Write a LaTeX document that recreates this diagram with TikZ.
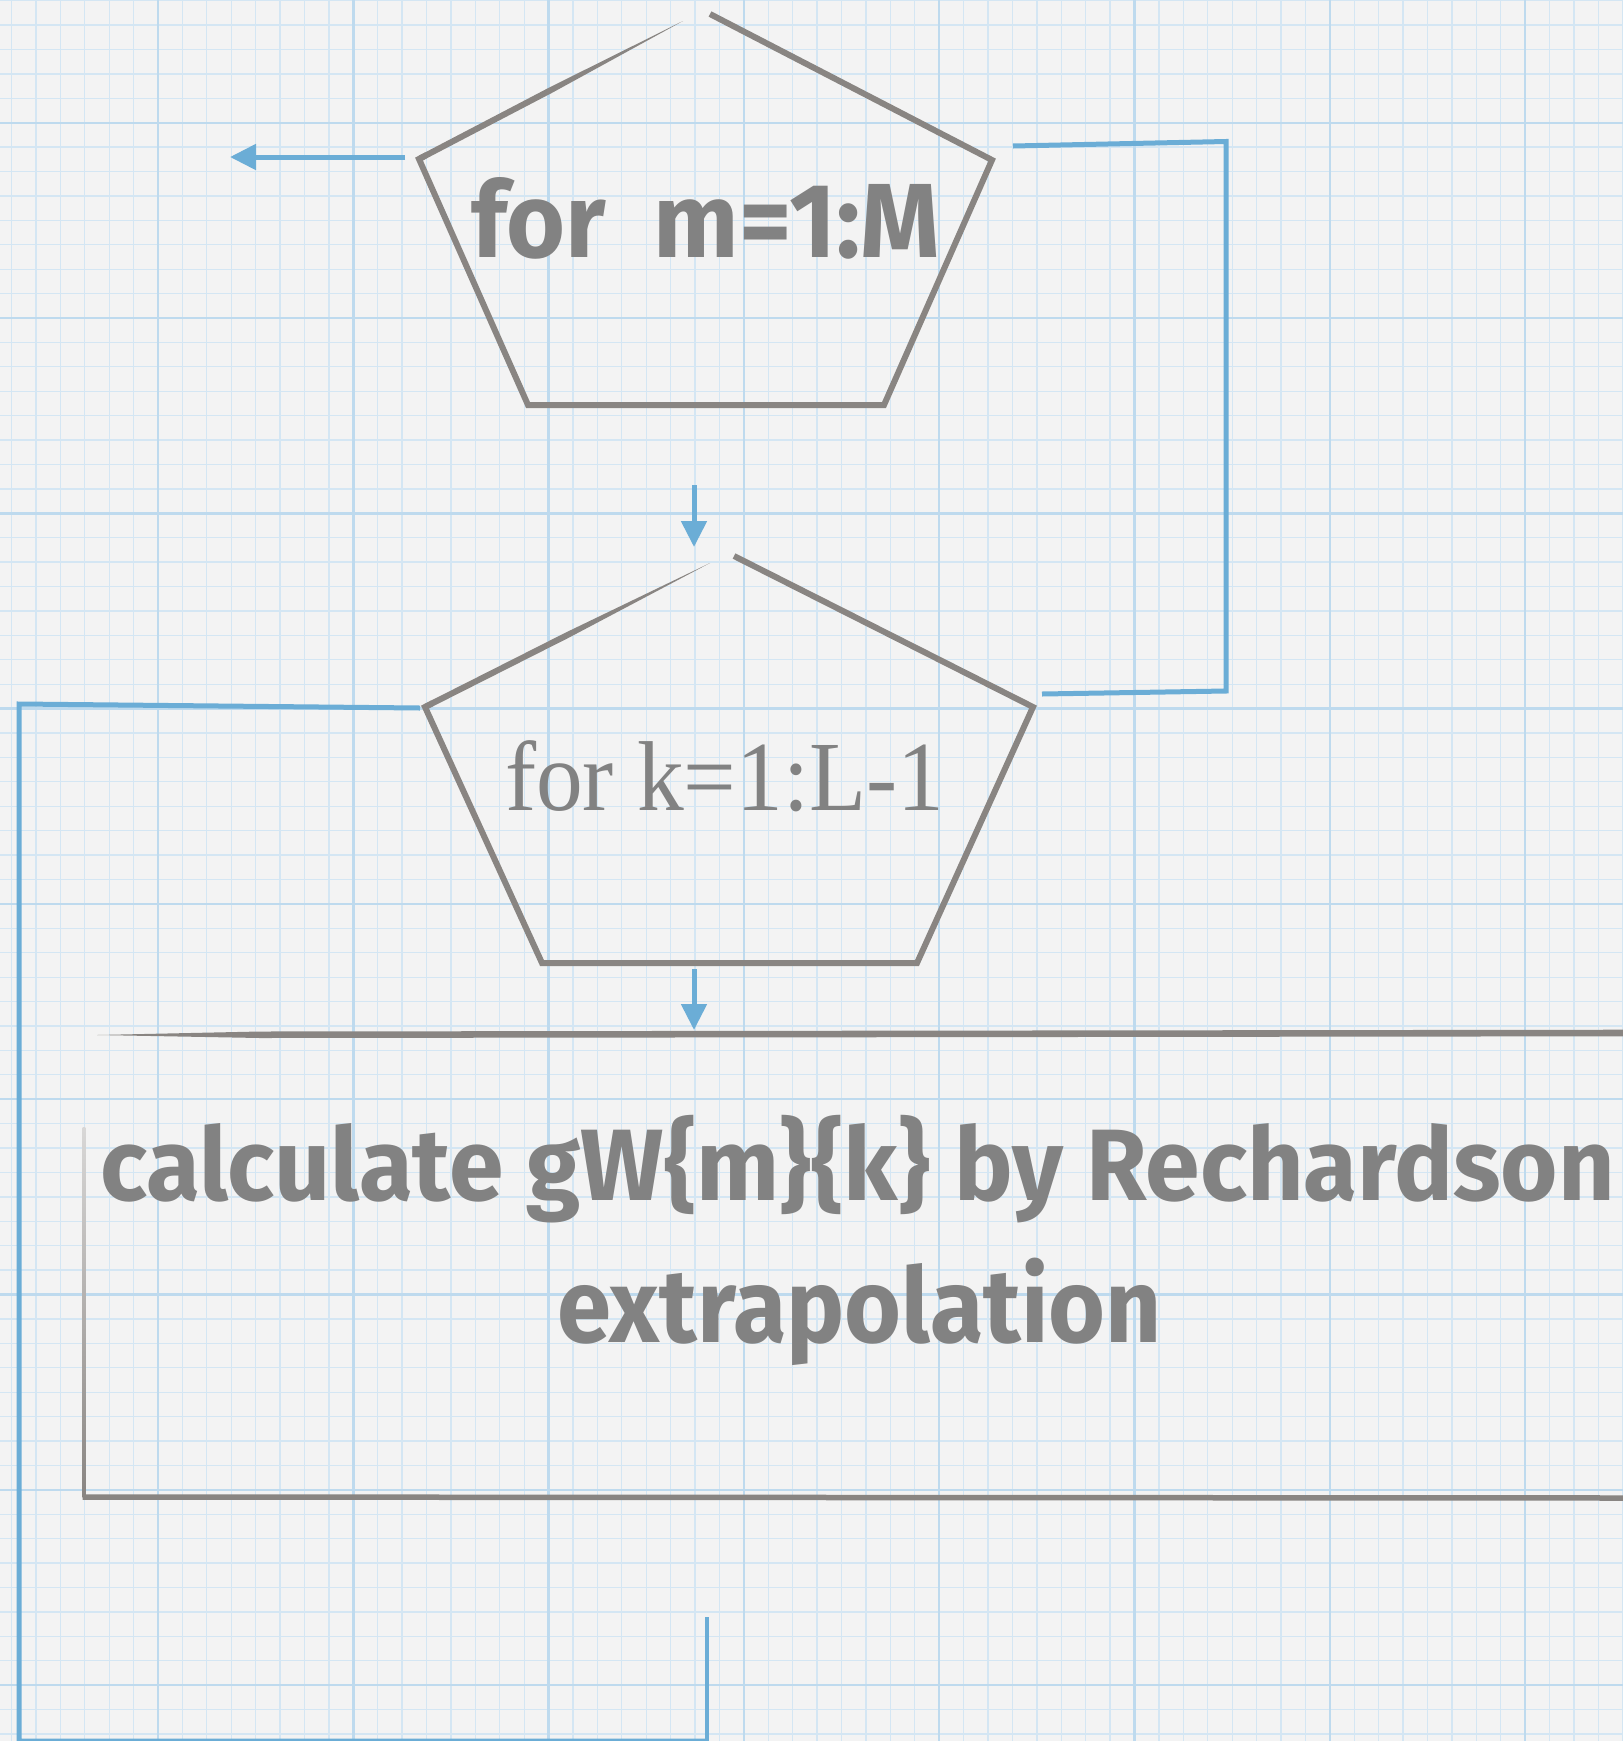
\documentclass[tikz,border=0pt]{standalone}
\usepackage{fontspec}
\usepackage{graphicx}
\usetikzlibrary{arrows.meta,calc}

\newfontfamily\handfont{Fira Sans}
\newfontfamily\bookfont{Liberation Serif}

\definecolor{paper}{RGB}{243,243,243}
\definecolor{gridminor}{RGB}{212,230,243}
\definecolor{gridmajor}{RGB}{190,218,238}
\definecolor{flowblue}{RGB}{107,173,214}
\definecolor{shapegrey}{RGB}{137,133,130}
\definecolor{inkgrey}{RGB}{130,130,130}

% set a line of text to an exact width and ascender height
\newcommand\fitline[4]{\resizebox{#1}{#2}{\smash{#4}\rule{0pt}{\fontcharht\font`#3}}}

% a stroke that keeps its width over the first part and runs out to a point
\newcommand\taperedge[3]{%
  \coordinate (tmid) at ($(#1)!0.5!(#2)$);
  \fill[shapegrey] ($(#1)!#3!90:(#2)$) -- ($(tmid)!#3!90:(#2)$) -- (#2)
    -- ($(tmid)!#3!-90:(#2)$) -- ($(#1)!#3!-90:(#2)$) -- cycle;}

\tikzset{
  minorline/.style={gridminor, line width=1.3pt},
  majorline/.style={gridmajor, line width=2.4pt},
  outline/.style={shapegrey, line width=6pt, line join=miter},
  flow/.style={flowblue, line width=5pt, line join=miter},
  flowarrow/.style={flow, -{Triangle[length=26pt,width=25pt]}},
  textline/.style={inner sep=0pt, outer sep=0pt, anchor=base west, text=inkgrey},
}

\begin{document}
\begin{tikzpicture}[x=1pt,y=-1pt]
\useasboundingbox (0,0) rectangle (1623,1741);

% graph paper
\fill[paper] (0,0) rectangle (1623,1741);
\foreach \i in {-6,...,60}
  \draw[minorline] ({158+24.4125*\i},0) -- ({158+24.4125*\i},1741);
\foreach \j in {-5,...,66}
  \draw[minorline] (0,{122.7+24.4125*\j}) -- (1623,{122.7+24.4125*\j});
\foreach \i in {-1,...,7}
  \draw[majorline] ({158+195.3*\i},0) -- ({158+195.3*\i},1741);
\foreach \j in {0,...,8}
  \draw[majorline] (0,{122.7+195.3*\j}) -- (1623,{122.7+195.3*\j});

% outer loop: pentagon
\coordinate (pa-tipL) at (683,21);
\coordinate (pa-tipR) at (710,14);
\coordinate (pa-L) at (419,159);
\coordinate (pa-R) at (992,160);
\coordinate (pa-BL) at (528,405);
\coordinate (pa-BR) at (884,405);
\draw[outline] (pa-tipR) -- (pa-R) -- (pa-BR) -- (pa-BL) -- (pa-L) -- ($(pa-L)!8pt!(pa-tipL)$);
\taperedge{pa-L}{pa-tipL}{3pt}
\node[textline] (loopm) at (471,257)
  {\handfont\bfseries\fitline{469pt}{80pt}{f}{for\ \ m=1:M}};

% inner loop: pentagon
\coordinate (pb-tipL) at (710,563);
\coordinate (pb-tipR) at (734,556);
\coordinate (pb-L) at (425,707);
\coordinate (pb-R) at (1033,707);
\coordinate (pb-BL) at (542,963);
\coordinate (pb-BR) at (917,963);
\draw[outline] (pb-tipR) -- (pb-R) -- (pb-BR) -- (pb-BL) -- (pb-L) -- ($(pb-L)!8pt!(pb-tipL)$);
\taperedge{pb-L}{pb-tipL}{3pt}
\node[textline] (loopk) at (505,810)
  {\bookfont\fitline{439pt}{65pt}{k}{for k=1:L-1}};

% process box, open to the right
\coordinate (bx-tip) at (97,1035);
\coordinate (bx-TR) at (1630,1033);
\coordinate (bx-Ltop) at (84,1127);
\coordinate (bx-BL) at (84,1497);
\coordinate (bx-BR) at (1630,1498);
\fill[shapegrey] (bx-tip) -- (260,1031.5) -- ($(bx-TR)+(0,-3.3)$) -- ($(bx-TR)+(0,3.3)$) -- (260,1038) -- cycle;
\shade[top color=shapegrey!25!paper, bottom color=shapegrey] ($(bx-Ltop)+(-1.4,0)$) rectangle ($(bx-BL)+(1.4,0)$);
\draw[outline, line width=5.5pt] ($(bx-BL)+(-1.4,0)$) -- (bx-BR);
\node[textline] (calc1) at (100,1200)
  {\handfont\bfseries\fitline{1514pt}{77pt}{l}{calculate gW\{m\}\{k\} by Rechardson}};
\node[textline] (calc2) at (557,1342)
  {\handfont\bfseries\fitline{605pt}{79pt}{l}{extrapolation}};

% connectors
\coordinate (exit-s) at (405,157);
\coordinate (exit-e) at (230,157);
\draw[flowarrow] (exit-s) -- (exit-e);

\coordinate (down1-s) at (694,485);
\coordinate (down1-e) at (694,547);
\draw[flowarrow] (down1-s) -- (down1-e);

\coordinate (down2-s) at (694,969);
\coordinate (down2-e) at (694,1030);
\draw[flowarrow] (down2-s) -- (down2-e);

% return from the inner loop to the outer loop
\coordinate (back-a) at (1013,146);
\coordinate (back-b) at (1226,141.5);
\coordinate (back-c) at (1226,691);
\coordinate (back-d) at (1042,694);
\draw[flow] (back-a) -- (back-b) -- (back-c) -- (back-d);

% return from the box to the inner loop
\coordinate (ret-a) at (420,708);
\coordinate (ret-b) at (19,704);
\coordinate (ret-c) at (19,1741);
\coordinate (ret-d) at (707,1741);
\coordinate (ret-e) at (707,1617);
\draw[flow] (ret-a) -- (ret-b) -- (ret-c) -- (ret-d);
\draw[flow, line width=3.8pt] (ret-d) -- (ret-e);
\end{tikzpicture}
\end{document}
